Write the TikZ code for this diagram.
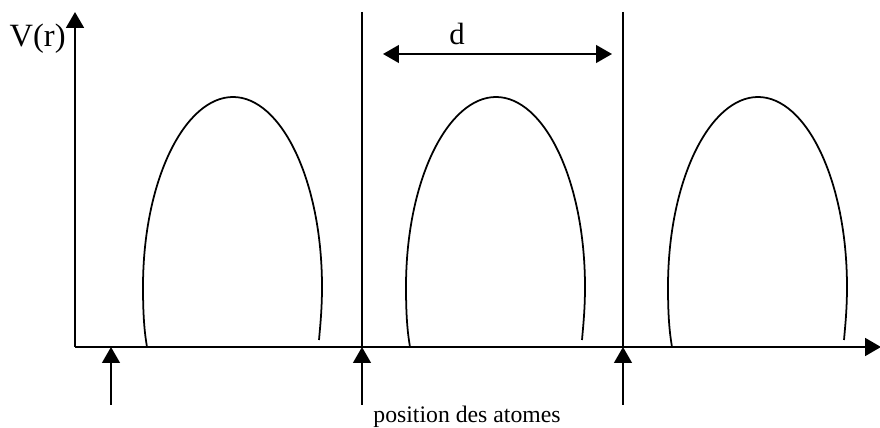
\documentclass[tikz,border=0pt]{standalone}
\usepackage{fontspec}
\setmainfont{Liberation Serif}
\usetikzlibrary{arrows.meta,calc}

\tikzset{
    pointe/.tip={Triangle[width=10pt,length=9pt]},
    axe/.style={line width=1.5pt,-pointe},
    fleche/.style={line width=1.2pt,-pointe},
    bosse/.style={line width=1pt},
    paroi/.style={line width=0.9pt},
}

\begin{document}
\begin{tikzpicture}[x=0.02cm,y=-0.02cm]
            \useasboundingbox (0,0) rectangle (880,428);
            \coordinate (O) at (75,347);
            \coordinate (ytop) at (75,12);
            \coordinate (xend) at (881,347);
            \draw[axe] (O) -- (ytop);
            \draw[axe] (O) -- (xend);
            \node[anchor=base east,inner sep=0pt,font=\fontsize{18.5}{22}\selectfont] (V) at (66,47) {V(r)};
            % les trois bosses du potentiel
            \foreach \s/\n in {0/1,263/2,525/3}
            {
                \draw[bosse] (147+\s,347) .. controls (145+\s,335) and (143+\s,320) .. (143+\s,287)
                    .. controls (143+\s,180) and (185+\s,97) .. (233+\s,97)
                    .. controls (281+\s,97) and (322+\s,180) .. (322+\s,287)
                    .. controls (322+\s,310) and (320+\s,328) .. (319+\s,340);
            }
            % positions des atomes
            \foreach \x/\n in {111/a,362/b,623/c}
            {
                \coordinate (pied-\n) at (\x,405);
                \coordinate (atome-\n) at (\x,347);
                \draw[fleche] (pied-\n) -- (atome-\n);
            }
            \foreach \n in {b,c}
            {
                \coordinate (haut-\n) at ($(atome-\n)+(0,-335)$);
                \draw[paroi] (haut-\n) -- (atome-\n);
            }
            \coordinate (dg) at (383,54);
            \coordinate (dd) at (612,54);
            \draw[fleche,pointe-pointe] (dg) -- (dd);
            \node[anchor=base,inner sep=0pt,font=\fontsize{17.5}{21}\selectfont] (d) at (457,45) {d};
            \node[anchor=base,inner sep=0pt,font=\fontsize{13.5}{16}\selectfont] (pos) at (467,423) {position des atomes};
        \end{tikzpicture}
\end{document}
